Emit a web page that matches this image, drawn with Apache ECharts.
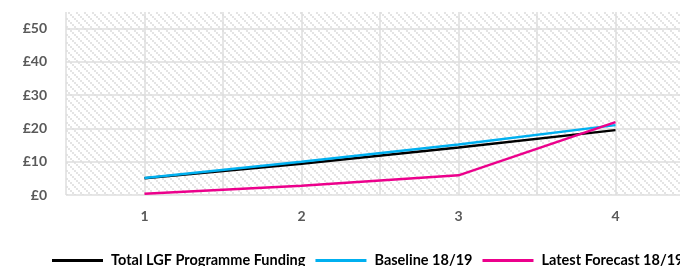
<!DOCTYPE html>
<html>
<head>
<meta charset="utf-8">
<script src="https://cdn.jsdelivr.net/npm/echarts@6/dist/echarts.min.js"></script>
<style>html,body{margin:0;padding:0;background:#fff;}#c{width:680px;height:266px;}</style>
</head>
<body>
<div id="c"></div>
<script>
const categories = [1, 2, 3, 4];
const totalLGF = [5.0, 9.4, 14.3, 19.5];
const baseline = [5.1, 10.0, 15.2, 21.0];
const latestForecast = [0.4, 2.8, 5.9, 21.9];
const yTicks = ['£0', '£10', '£20', '£30', '£40', '£50'];
const seriesNames = ['Total LGF Programme Funding', 'Baseline 18/19', 'Latest Forecast 18/19'];

// hatch pattern
const pc = document.createElement('canvas');
pc.width = 8; pc.height = 8;
const pctx = pc.getContext('2d');
pctx.fillStyle = '#ffffff';
pctx.fillRect(0, 0, 8, 8);
pctx.fillStyle = '#e4e4e4';
for (let i = 0; i < 8; i += 2) { pctx.fillRect(i, i, 2, 2); }

const pair = arr => arr.map((v, i) => [categories[i], v]);
const font = 'Lato, "Open Sans", sans-serif';

const chart = echarts.init(document.getElementById('c'), null, {renderer: 'canvas'});
chart.setOption({
  animation: false,
  backgroundColor: '#ffffff',
  grid: {left: 66, width: 628, top: 12, bottom: 71, show: true, borderWidth: 0,
         outerBoundsMode: 'none', containLabel: false,
         backgroundColor: {image: pc, repeat: 'repeat'}},
  xAxis: {
    type: 'value', min: 0.5, max: 4.5, interval: 0.5,
    axisLine: {show: false}, axisTick: {show: false},
    splitLine: {show: true, lineStyle: {color: '#dedede', width: 1.5}},
    axisLabel: {margin: 14, color: '#595959', fontWeight: 'bold', fontSize: 14, fontFamily: font,
      formatter: v => Number.isInteger(v) ? String(v) : ''}
  },
  yAxis: {
    type: 'value', min: 0, max: 55, interval: 10,
    axisLine: {show: false}, axisTick: {show: false},
    splitLine: {show: true, lineStyle: {color: ['#dedede','#dedede','#dedede','#dedede','#dedede','#dedede','rgba(0,0,0,0)'], width: 1.5}},
    axisLabel: {margin: 19, color: '#595959', fontWeight: 'bold', fontSize: 14, fontFamily: font,
      formatter: v => (v % 10 === 0 ? yTicks[v / 10] : '')}
  },
  legend: {
    left: 52, top: 253, width: 1000, padding: 0, itemWidth: 51, itemHeight: 3, itemGap: 10,
    icon: 'rect',
    textStyle: {color: '#000', fontWeight: 'bold', fontSize: 14.5, fontFamily: font, padding: [0,0,0,3]},
    data: seriesNames
  },
  series: [
    {name: seriesNames[0], type: 'line', data: pair(totalLGF), showSymbol: false, symbol: 'none',
     lineStyle: {color: '#000000', width: 2.5}, itemStyle: {color: '#000000'}, z: 3},
    {name: seriesNames[1], type: 'line', data: pair(baseline), showSymbol: false, symbol: 'none',
     lineStyle: {color: '#00B0F0', width: 2.5}, itemStyle: {color: '#00B0F0'}, z: 4},
    {name: seriesNames[2], type: 'line', data: pair(latestForecast), showSymbol: false, symbol: 'none',
     lineStyle: {color: '#EC008C', width: 2.5}, itemStyle: {color: '#EC008C'}, z: 5}
  ]
});
</script>
</body>
</html>
